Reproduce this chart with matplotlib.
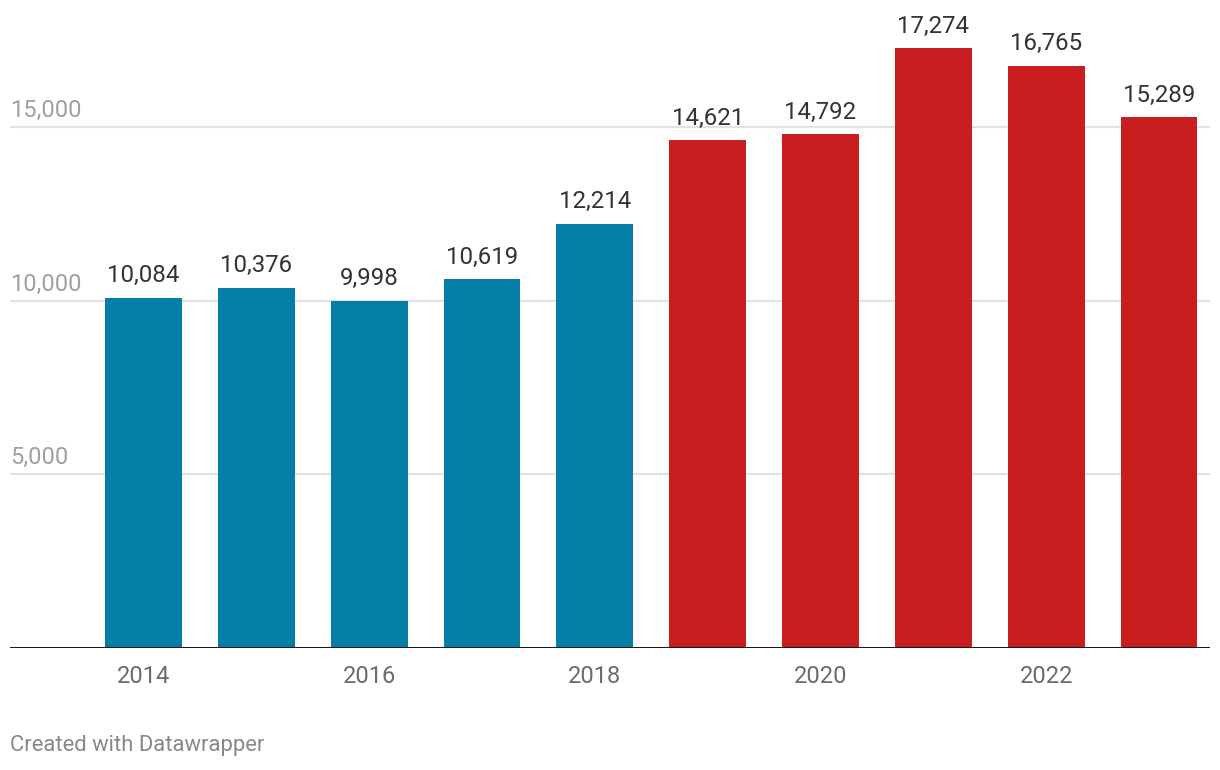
import matplotlib.pyplot as plt

plt.rcParams['font.family'] = ['Roboto', 'DejaVu Sans']

years = [2014, 2015, 2016, 2017, 2018, 2019, 2020, 2021, 2022, 2023]
values = [10084, 10376, 9998, 10619, 12214, 14621, 14792, 17274, 16765, 15289]
colors = ['#047ea7'] * 5 + ['#c81e1f'] * 5
yticks = [5000, 10000, 15000]
xticks = [2014, 2016, 2018, 2020, 2022]

fig = plt.figure(figsize=(12.2, 7.7), dpi=100)
ax = fig.add_axes([10 / 1220, 122 / 770, 1200 / 1220, 628 / 770])

ax.bar(years, values, width=0.68, color=colors, zorder=2)

# value labels above bars
for x, v in zip(years, values):
    ax.text(x, v + 300, f'{v:,}', ha='center', va='bottom',
            fontsize=17.3, color='#333333')

ax.set_xlim(years[0] - 1.183, years[-1] + 0.452)
ax.set_ylim(0, 18082)

# gridlines with labels sitting above them
for t in yticks:
    ax.axhline(t, color='#e2e2e2', lw=1.5, zorder=1)
    ax.text(years[0] - 1.183, t + 150, f'{t:,}', ha='left', va='bottom',
            fontsize=17, color='#a0a0a0')
ax.axhline(0, color='#1a1a1a', lw=2.2, zorder=3)

ax.set_yticks([])
ax.set_xticks(xticks)
ax.set_xticklabels([str(x) for x in xticks], fontsize=17, color='#6b6b6b')
ax.tick_params(axis='x', length=0, pad=12)
for s in ax.spines.values():
    s.set_visible(False)

fig.text(10 / 1220, 1 - 746 / 770, 'Created with Datawrapper', ha='left',
         va='center', fontsize=15.8, color='#888888')

fig.savefig('out.png', dpi=100)
